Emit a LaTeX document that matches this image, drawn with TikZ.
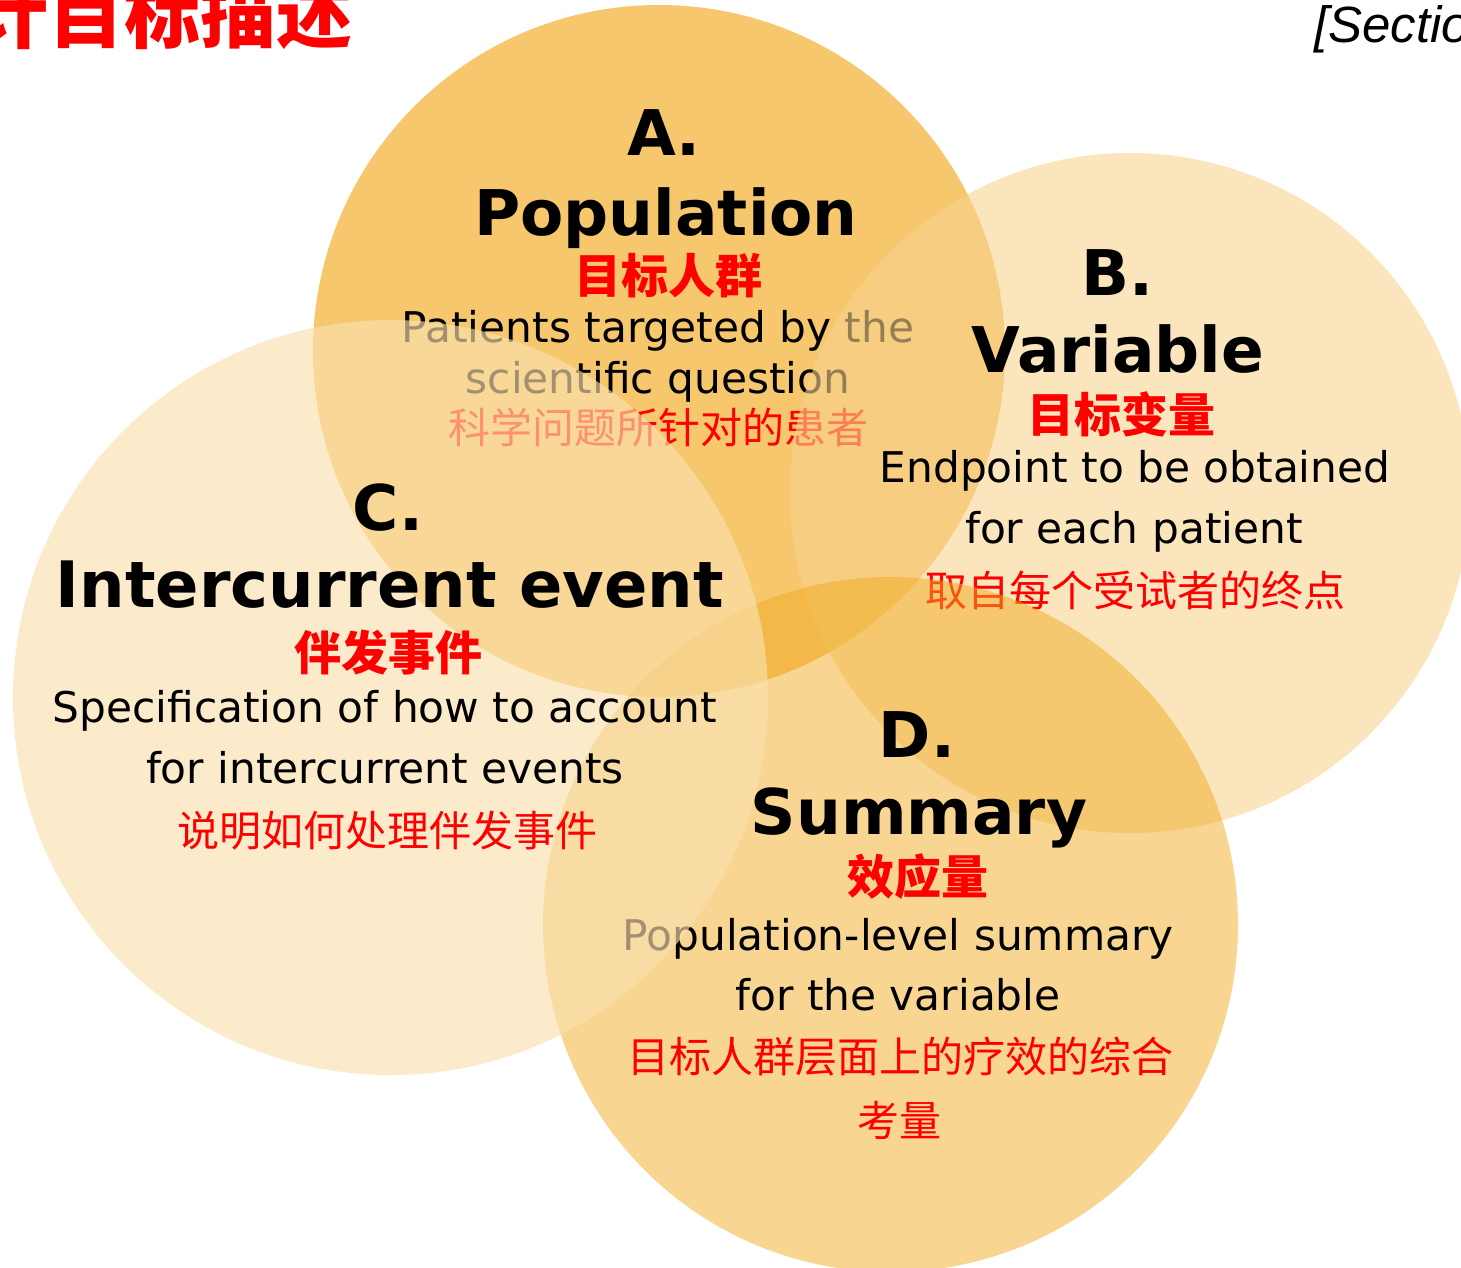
\documentclass[tikz,border=0pt]{standalone}
\usepackage{fontspec}
\setmainfont{DejaVu Sans}
\newfontfamily\cjk{Noto Sans CJK SC}
\newfontfamily\secfont{Liberation Sans}
\definecolor{cA}{RGB}{246,199,108}
\definecolor{cB}{RGB}{248,212,143}
\definecolor{cC}{RGB}{250,224,175}
\definecolor{cD}{RGB}{241,171,35}
\definecolor{cred}{RGB}{255,0,0}
\begin{document}
\begin{tikzpicture}[x=1pt,y=-1pt,
  every node/.style={inner sep=0pt, outer sep=0pt},
  disc/.style={circle, draw=none, minimum size=#1},
  head/.style={font=\fontsize{63}{63}\selectfont\bfseries, anchor=base},
  desc/.style={font=\fontsize{42.3}{42}\selectfont, anchor=base},
  cnh/.style={font=\cjk\bfseries\fontsize{47}{47}\selectfont, text=cred, anchor=center},
  cnd/.style={font=\cjk\fontsize{42}{42}\selectfont, text=cred, anchor=center}]
\useasboundingbox (0,0) rectangle (1461,1267);
% title fragments
\node[font=\cjk\bfseries\fontsize{76}{76}\selectfont, text=cred, anchor=east] (title) at (353,14) {估计目标描述};
\node[font=\secfont\itshape\fontsize{51}{51}\selectfont, anchor=base west] (sec) at (1314,42) {[Section};
% A
\node[disc=692pt, fill=cA] (circA) at (659,351) {};
\node[head] (Aletter) at (664,155) {A.};
\node[head] (Ahead) at (666,235) {Population};
\node[cnh] (Acn) at (668,276) {目标人群};
\node[desc] (Ad1) at (658,342) {Patients targeted by the};
\node[desc] (Ad2) at (658,393) {scientific question};
\node[cnd] (Ad3) at (658,427) {科学问题所针对的患者};
% B
\node[disc=680pt, fill=cB, fill opacity=0.6] (circB) at (1130,493) {};
\node[head] (Bletter) at (1117,295) {B.};
\node[head] (Bhead) at (1118,372) {Variable};
\node[cnh] (Bcn) at (1121,414) {目标变量};
\node[desc] (Bd1) at (1135,482) {Endpoint to be obtained};
\node[desc] (Bd2) at (1134,543) {for each patient};
\node[cnd] (Bd3) at (1135,590) {取自每个受试者的终点};
% D
\node[disc=695pt, fill=cD, fill opacity=0.5] (circD) at (890.5,924.5) {};
\node[head] (Dletter) at (917,757) {D.};
\node[head] (Dhead) at (919,834) {Summary};
\node[cnh] (Dcn) at (918,877) {效应量};
\node[desc] (Dd1) at (898,950) {Population-level summary};
\node[desc] (Dd2) at (898,1010) {for the variable};
\node[cnd] (Dd3) at (900,1057) {目标人群层面上的疗效的综合};
\node[cnd] (Dd4) at (899,1120) {考量};
% C
\node[disc=755pt, fill=cC, fill opacity=0.65] (circC) at (390.5,697.5) {};
\node[head] (Cletter) at (388,530) {C.};
\node[head, font=\fontsize{64}{64}\selectfont\bfseries] (Chead) at (390,607) {Intercurrent event};
\node[cnh] (Ccn) at (388,652) {伴发事件};
\node[desc] (Cd1) at (385,722) {Specification of how to account};
\node[desc] (Cd2) at (385,783) {for intercurrent events};
\node[cnd] (Cd3) at (387,831) {说明如何处理伴发事件};
\end{tikzpicture}
\end{document}
